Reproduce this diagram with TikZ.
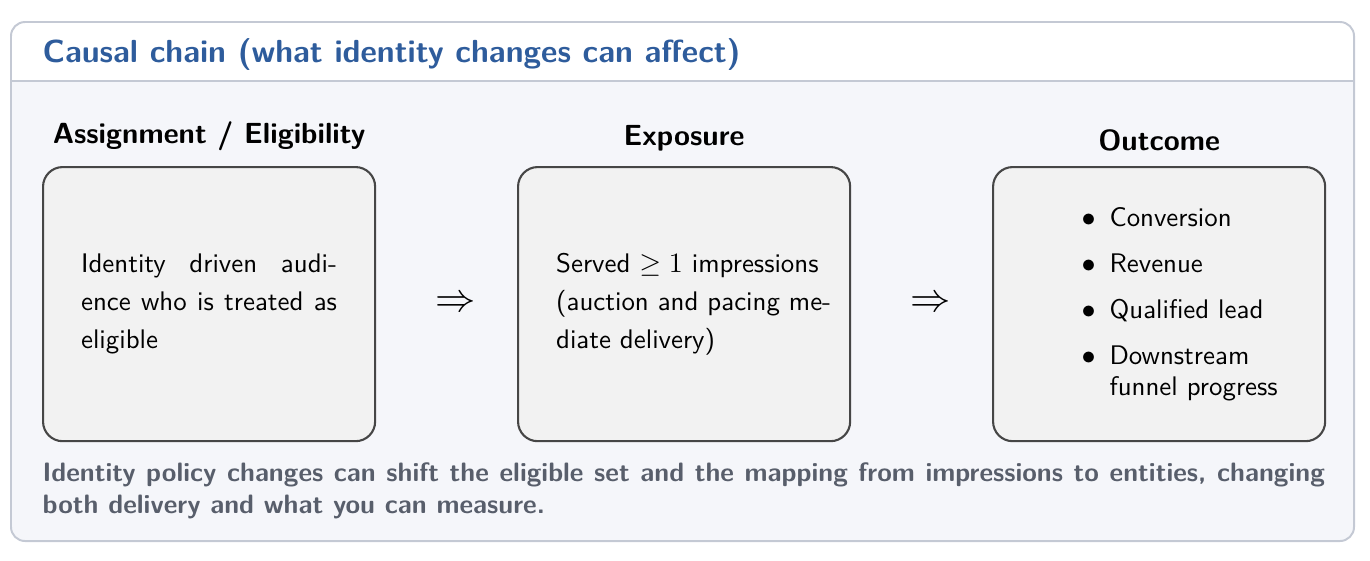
\documentclass[tikz,border=0pt]{standalone}
\usepackage{tikz}
\usetikzlibrary{calc, positioning}
\renewcommand{\familydefault}{\sfdefault}
\definecolor{framegray}{RGB}{196,201,212}
\definecolor{panelbg}{RGB}{245,246,250}
\definecolor{titleblue}{RGB}{46,92,156}
\definecolor{notegray}{RGB}{88,94,107}
\definecolor{boxfill}{RGB}{242,242,242}
\definecolor{boxline}{RGB}{70,70,70}
\setlength{\leftmargini}{28pt}
\renewcommand{\labelitemi}{$\bullet$}

\begin{document}
\begin{tikzpicture}[
  x=0.35714pt, y=-0.35714pt,
  panel/.style={draw=boxline, fill=boxfill, line width=0.75pt, rounded corners=7pt,
    minimum width=118.6pt, minimum height=97.9pt, inner xsep=13.6pt},
  stage/.style={panel, text width=91.4pt, align=justify,
    font=\fontsize{9.6}{13.6}\selectfont},
  listing/.style={panel, font=\fontsize{9.6}{11.1}\selectfont},
  head/.style={font=\fontsize{10.4}{12.5}\selectfont\bfseries, inner sep=0pt},
  flow/.style={font=\fontsize{15}{17}\selectfont, inner sep=0pt},
  note/.style={text=notegray, font=\fontsize{9.5}{11.5}\selectfont\bfseries,
    text width=458pt, align=justify, inner sep=0pt},
  node distance=50.3pt,
]
  \useasboundingbox (0,0) rectangle (1370,560);
  % frame
  \fill[panelbg, rounded corners=5pt] (11,22) rectangle (1354,541);
  \fill[white] (11,81) {[rounded corners=5pt] -- (11,22) -- (1354,22)} -- (1354,81) -- cycle;
  \draw[framegray, line width=0.7pt] (11,81) -- (1354,81);
  \draw[framegray, line width=0.7pt, rounded corners=5pt] (11,22) rectangle (1354,541);
  \node[anchor=base west, inner sep=0pt, text=titleblue,
    font=\fontsize{11.4}{14}\selectfont\bfseries] (title) at (42,62)
    {Causal chain (what identity changes can affect)};

  % stages
  \node[stage, anchor=north west] (b1) at (42,166)
    {Identity driven audience who is treated as eligible};
  \node[stage, right=of b1] (b2)
    {\mbox{Served $\geq 1$ impressions}\linebreak
     \mbox{(auction and pacing me-}\linebreak diate delivery)};
  \node[listing, right=of b2] (b3) {%
    \begin{minipage}{91.4pt}
    \setlength{\topsep}{0pt}\setlength{\partopsep}{0pt}%
    \begin{itemize}\setlength{\itemsep}{5.3pt}\setlength{\parskip}{0pt}
      \item Conversion
      \item Revenue
      \item Qualified lead
      \item Downstream funnel progress
    \end{itemize}
    \end{minipage}};

  \node[head, above=5.1pt of b1] (h1) {Assignment / Eligibility};
  \node[head, above=5.1pt of b2] (h2) {Exposure};
  \node[head, above=5.1pt of b3] (h3) {Outcome};

  \node[flow, right=21pt of b1] (a1) {$\Rightarrow$};
  \node[flow, right=21pt of b2] (a2) {$\Rightarrow$};

  \node[note, below=7pt of b1.south west, anchor=north west] (foot)
    {Identity policy changes can shift the eligible set and the mapping from impressions to entities, changing both delivery and what you can measure.};
\end{tikzpicture}
\end{document}
